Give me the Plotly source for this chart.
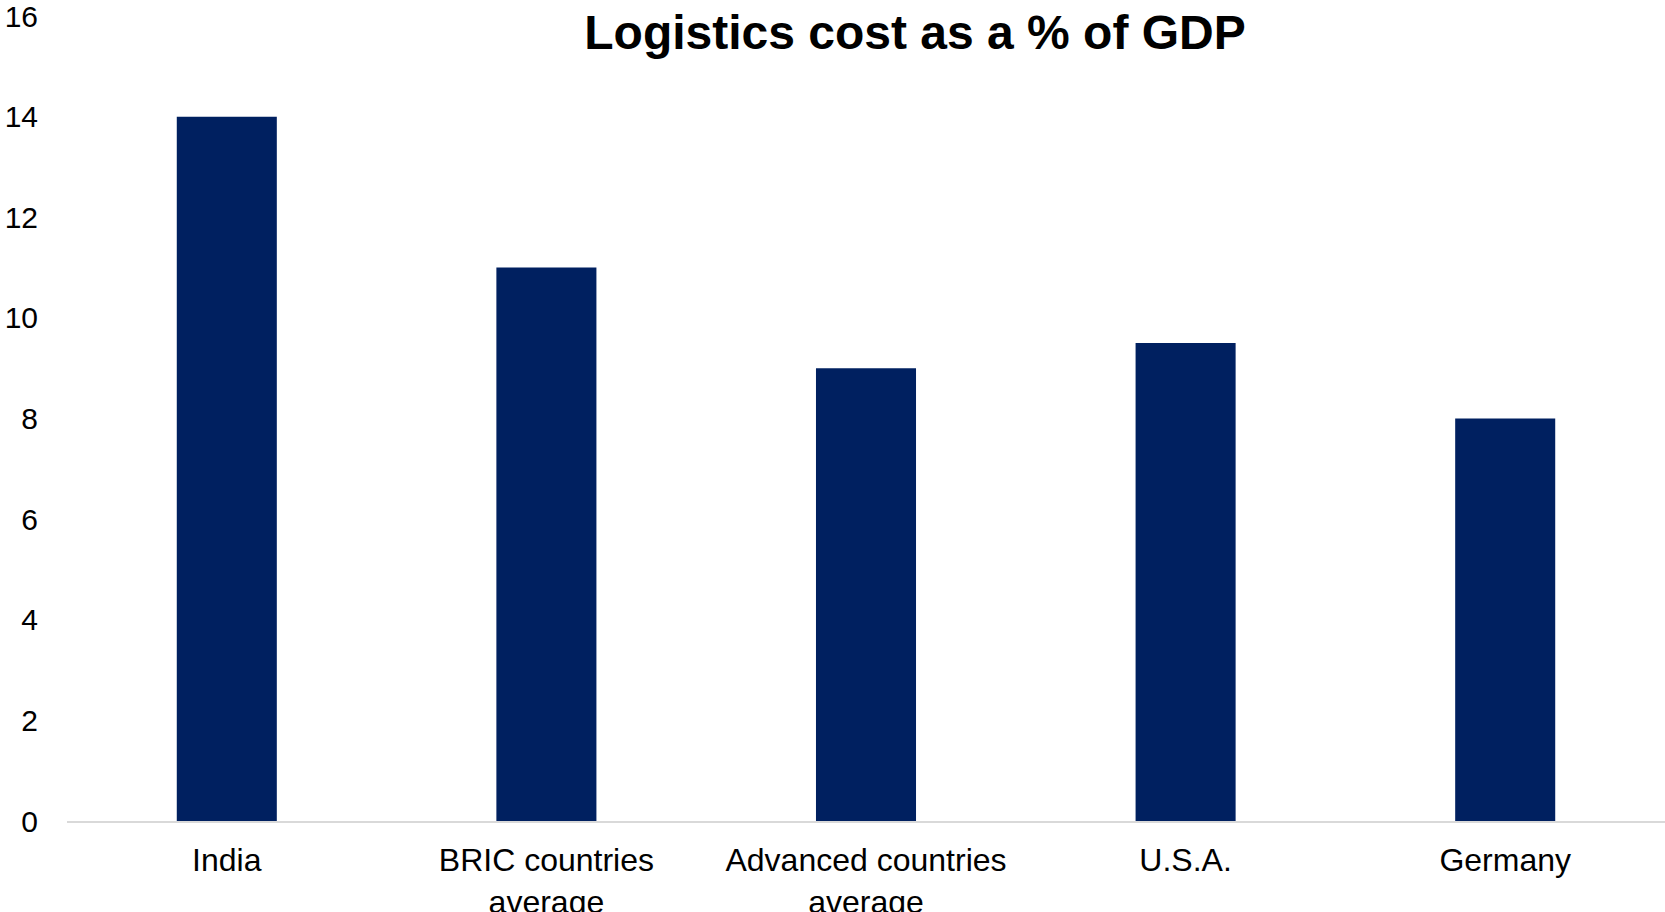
import plotly.graph_objects as go

categories = ["India", "BRIC countries<br>average", "Advanced countries<br>average", "U.S.A.", "Germany"]
values = [14, 11, 9, 9.5, 8]
y_ticks = [0, 2, 4, 6, 8, 10, 12, 14, 16]

fig = go.Figure(go.Bar(x=categories, y=values, marker=dict(color="#002060", line=dict(width=0))))

fig.update_layout(
    width=1665, height=912,
    margin=dict(l=67, r=0, t=16, b=91),
    paper_bgcolor="white", plot_bgcolor="white",
    bargap=0.687,
    showlegend=False,
    font=dict(family="Liberation Sans, Arial, sans-serif", color="black", size=32),
    title=dict(text="<b>Logistics cost as a % of GDP</b>", x=915 / 1665, y=1 - 32 / 912,
               xref="container", yref="container", xanchor="center", yanchor="middle",
               font=dict(size=48, family="Liberation Sans, Arial, sans-serif", color="black")),
)
fig.update_xaxes(showline=True, linecolor="#d9d9d9", linewidth=2, showgrid=False, ticks="",
                 tickfont=dict(size=32), ticklabelstandoff=10, automargin=False)
fig.update_yaxes(range=[0, 16], tickvals=y_ticks, showgrid=False, zeroline=False, showline=False,
                 ticks="", tickfont=dict(size=30), ticklabelstandoff=28, ticklabeloverflow="allow",
                 automargin=False)

fig.write_html("out.html", config={"displayModeBar": False},
               post_script="document.body.style.margin='0';document.body.style.overflow='hidden';")
